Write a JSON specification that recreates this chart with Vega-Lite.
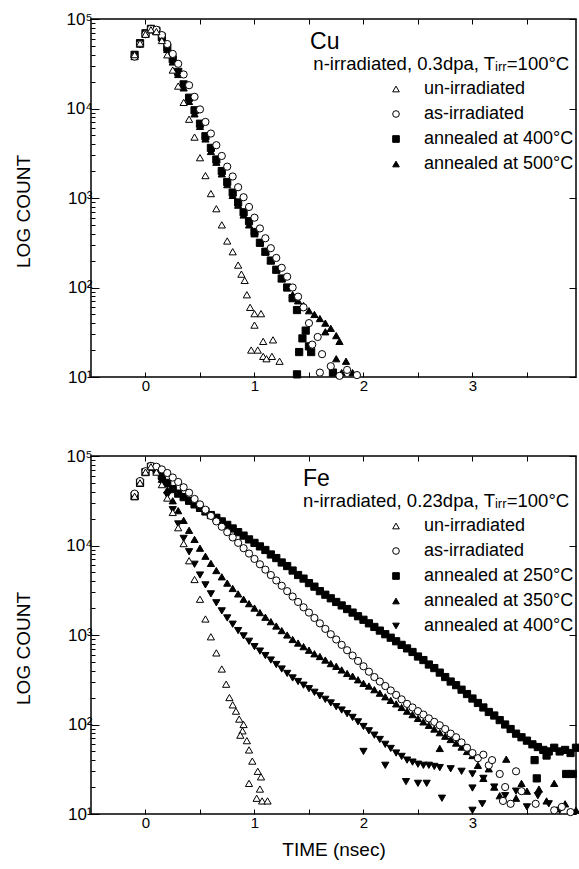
{
  "$schema": "https://vega.github.io/schema/vega-lite/v6.json",
  "background": "white",
  "padding": {"left": 14, "top": 9, "right": 0, "bottom": 5},
  "spacing": 52,
  "config": {
    "font": "Liberation Sans",
    "view": {"stroke": "black", "strokeWidth": 1.5},
    "axis": {"grid": false, "domain": false, "tickColor": "black", "tickWidth": 1, "labelColor": "black", "titleColor": "black", "labelFontSize": 15, "titleFontSize": 19, "titleFontWeight": "normal", "labelFlush": false, "labelOverlap": false},
    "axisY": {"labelFontSize": 17},
    "legend": {"labelFontSize": 18, "labelColor": "black", "symbolStrokeColor": "black", "symbolStrokeWidth": 1, "symbolSize": 44, "rowPadding": 7, "labelOffset": 19},
    "text": {"color": "black"}
  },
  "resolve": {"scale": {"shape": "independent", "fill": "independent", "stroke": "independent"}, "legend": {"shape": "independent", "fill": "independent", "stroke": "independent"}},
  "datasets": {
    "cu": [
      {"series":"a400","time":-0.1,"count":39800},{"series":"a400","time":-0.05,"count":53700},{"series":"a400","time":0,"count":69200},{"series":"a400","time":0.05,"count":77600},{"series":"a400","time":0.1,"count":74100},{"series":"a400","time":0.15,"count":63100},{"series":"a400","time":0.2,"count":47900},{"series":"a400","time":0.25,"count":35500},{"series":"a400","time":0.3,"count":25700},{"series":"a400","time":0.35,"count":18600},{"series":"a400","time":0.4,"count":13200},{"series":"a400","time":0.45,"count":9550},{"series":"a400","time":0.5,"count":6760},{"series":"a400","time":0.55,"count":4900},{"series":"a400","time":0.6,"count":3630},{"series":"a400","time":0.65,"count":2690},{"series":"a400","time":0.7,"count":2000},{"series":"a400","time":0.75,"count":1510},{"series":"a400","time":0.8,"count":1150},{"series":"a400","time":0.85,"count":891},{"series":"a400","time":0.9,"count":692},{"series":"a400","time":0.95,"count":550},{"series":"a400","time":1.0,"count":417},{"series":"a400","time":1.05,"count":316},{"series":"a400","time":1.1,"count":251},{"series":"a400","time":1.15,"count":200},{"series":"a400","time":1.2,"count":158},{"series":"a400","time":1.25,"count":126},{"series":"a400","time":1.3,"count":100},{"series":"a400","time":1.35,"count":76},{"series":"a400","time":1.39,"count":56},{"series":"a400","time":1.44,"count":27},{"series":"a400","time":1.41,"count":19},{"series":"a400","time":1.52,"count":19},{"series":"a400","time":1.39,"count":10.7},{"series":"a400","time":1.72,"count":11.2},{"series":"a400","time":1.5,"count":22},{"series":"a400","time":1.47,"count":33},
      {"series":"a500","time":-0.1,"count":38000},{"series":"a500","time":-0.05,"count":52500},{"series":"a500","time":0,"count":67600},{"series":"a500","time":0.05,"count":75900},{"series":"a500","time":0.1,"count":72400},{"series":"a500","time":0.15,"count":61700},{"series":"a500","time":0.2,"count":45700},{"series":"a500","time":0.25,"count":33100},{"series":"a500","time":0.3,"count":24000},{"series":"a500","time":0.35,"count":17000},{"series":"a500","time":0.4,"count":12000},{"series":"a500","time":0.45,"count":8710},{"series":"a500","time":0.5,"count":6310},{"series":"a500","time":0.55,"count":4570},{"series":"a500","time":0.6,"count":3310},{"series":"a500","time":0.65,"count":2510},{"series":"a500","time":0.7,"count":1860},{"series":"a500","time":0.75,"count":1410},{"series":"a500","time":0.8,"count":1070},{"series":"a500","time":0.85,"count":832},{"series":"a500","time":0.9,"count":646},{"series":"a500","time":0.95,"count":501},{"series":"a500","time":1.0,"count":398},{"series":"a500","time":1.05,"count":316},{"series":"a500","time":1.1,"count":251},{"series":"a500","time":1.15,"count":200},{"series":"a500","time":1.2,"count":158},{"series":"a500","time":1.25,"count":126},{"series":"a500","time":1.3,"count":100},{"series":"a500","time":1.35,"count":83},{"series":"a500","time":1.4,"count":71},{"series":"a500","time":1.45,"count":63},{"series":"a500","time":1.5,"count":55},{"series":"a500","time":1.55,"count":50},{"series":"a500","time":1.6,"count":45},{"series":"a500","time":1.65,"count":40},{"series":"a500","time":1.7,"count":35},{"series":"a500","time":1.75,"count":29},{"series":"a500","time":1.78,"count":25},{"series":"a500","time":1.65,"count":32},{"series":"a500","time":1.84,"count":15},{"series":"a500","time":1.75,"count":16},{"series":"a500","time":1.9,"count":11.2},{"series":"a500","time":1.8,"count":11.2},
      {"series":"as","time":-0.1,"count":38000},{"series":"as","time":-0.05,"count":52500},{"series":"as","time":0,"count":67600},{"series":"as","time":0.05,"count":77600},{"series":"as","time":0.1,"count":75900},{"series":"as","time":0.15,"count":66100},{"series":"as","time":0.2,"count":52500},{"series":"as","time":0.25,"count":40700},{"series":"as","time":0.3,"count":31600},{"series":"as","time":0.35,"count":24000},{"series":"as","time":0.4,"count":18200},{"series":"as","time":0.45,"count":13500},{"series":"as","time":0.5,"count":9770},{"series":"as","time":0.55,"count":7080},{"series":"as","time":0.6,"count":5250},{"series":"as","time":0.65,"count":3890},{"series":"as","time":0.7,"count":2950},{"series":"as","time":0.75,"count":2240},{"series":"as","time":0.8,"count":1740},{"series":"as","time":0.85,"count":1320},{"series":"as","time":0.9,"count":1020},{"series":"as","time":0.95,"count":794},{"series":"as","time":1.0,"count":603},{"series":"as","time":1.05,"count":457},{"series":"as","time":1.1,"count":355},{"series":"as","time":1.15,"count":275},{"series":"as","time":1.2,"count":214},{"series":"as","time":1.25,"count":166},{"series":"as","time":1.3,"count":132},{"series":"as","time":1.35,"count":100},{"series":"as","time":1.4,"count":79},{"series":"as","time":1.45,"count":60},{"series":"as","time":1.5,"count":40},{"series":"as","time":1.53,"count":23},{"series":"as","time":1.58,"count":28},{"series":"as","time":1.62,"count":18},{"series":"as","time":1.6,"count":11.2},{"series":"as","time":1.7,"count":13.2},{"series":"as","time":1.78,"count":10.3},{"series":"as","time":1.94,"count":10.5},{"series":"as","time":1.85,"count":12},
      {"series":"un","time":-0.1,"count":40000},{"series":"un","time":-0.05,"count":53700},{"series":"un","time":0,"count":67600},{"series":"un","time":0.05,"count":75900},{"series":"un","time":0.1,"count":72400},{"series":"un","time":0.15,"count":57500},{"series":"un","time":0.2,"count":39800},{"series":"un","time":0.25,"count":26900},{"series":"un","time":0.3,"count":17800},{"series":"un","time":0.35,"count":11700},{"series":"un","time":0.4,"count":7590},{"series":"un","time":0.45,"count":4790},{"series":"un","time":0.5,"count":2820},{"series":"un","time":0.55,"count":1780},{"series":"un","time":0.6,"count":1120},{"series":"un","time":0.65,"count":759},{"series":"un","time":0.7,"count":501},{"series":"un","time":0.75,"count":331},{"series":"un","time":0.8,"count":251},{"series":"un","time":0.85,"count":178},{"series":"un","time":0.88,"count":141},{"series":"un","time":0.91,"count":120},{"series":"un","time":0.93,"count":83},{"series":"un","time":0.96,"count":60},{"series":"un","time":1.0,"count":51},{"series":"un","time":1.0,"count":38},{"series":"un","time":1.06,"count":51},{"series":"un","time":0.97,"count":20},{"series":"un","time":1.08,"count":25},{"series":"un","time":1.17,"count":26},{"series":"un","time":1.08,"count":17},{"series":"un","time":1.11,"count":16},{"series":"un","time":1.16,"count":17},{"series":"un","time":1.23,"count":15},{"series":"un","time":1.03,"count":20}
    ],
    "fe": [
      {"series":"a250","time":-0.1,"count":35500},{"series":"a250","time":-0.05,"count":50100},{"series":"a250","time":0,"count":66100},{"series":"a250","time":0.05,"count":75900},{"series":"a250","time":0.1,"count":72400},{"series":"a250","time":0.15,"count":60300},{"series":"a250","time":0.2,"count":50100},{"series":"a250","time":0.25,"count":42700},{"series":"a250","time":0.3,"count":38000},{"series":"a250","time":0.35,"count":34700},{"series":"a250","time":0.4,"count":31600},{"series":"a250","time":0.45,"count":28800},{"series":"a250","time":0.5,"count":26300},{"series":"a250","time":0.55,"count":24000},{"series":"a250","time":0.6,"count":21900},{"series":"a250","time":0.65,"count":20400},{"series":"a250","time":0.7,"count":18600},{"series":"a250","time":0.75,"count":17000},{"series":"a250","time":0.8,"count":15500},{"series":"a250","time":0.85,"count":14100},{"series":"a250","time":0.9,"count":12900},{"series":"a250","time":0.95,"count":11700},{"series":"a250","time":1.0,"count":10700},{"series":"a250","time":1.05,"count":9770},{"series":"a250","time":1.1,"count":8910},{"series":"a250","time":1.15,"count":7940},{"series":"a250","time":1.2,"count":7240},{"series":"a250","time":1.25,"count":6460},{"series":"a250","time":1.3,"count":5890},{"series":"a250","time":1.35,"count":5250},{"series":"a250","time":1.4,"count":4680},{"series":"a250","time":1.45,"count":4270},{"series":"a250","time":1.5,"count":3800},{"series":"a250","time":1.55,"count":3470},{"series":"a250","time":1.6,"count":3090},{"series":"a250","time":1.65,"count":2820},{"series":"a250","time":1.7,"count":2570},{"series":"a250","time":1.75,"count":2340},{"series":"a250","time":1.8,"count":2140},{"series":"a250","time":1.85,"count":1950},{"series":"a250","time":1.9,"count":1780},{"series":"a250","time":1.95,"count":1620},{"series":"a250","time":2.0,"count":1480},{"series":"a250","time":2.05,"count":1350},{"series":"a250","time":2.1,"count":1230},{"series":"a250","time":2.15,"count":1120},{"series":"a250","time":2.2,"count":1020},{"series":"a250","time":2.25,"count":933},{"series":"a250","time":2.3,"count":851},{"series":"a250","time":2.35,"count":776},{"series":"a250","time":2.4,"count":708},{"series":"a250","time":2.45,"count":646},{"series":"a250","time":2.5,"count":575},{"series":"a250","time":2.55,"count":525},{"series":"a250","time":2.6,"count":468},{"series":"a250","time":2.65,"count":427},{"series":"a250","time":2.7,"count":380},{"series":"a250","time":2.75,"count":339},{"series":"a250","time":2.8,"count":302},{"series":"a250","time":2.85,"count":275},{"series":"a250","time":2.9,"count":245},{"series":"a250","time":2.95,"count":219},{"series":"a250","time":3.0,"count":195},{"series":"a250","time":3.05,"count":174},{"series":"a250","time":3.1,"count":155},{"series":"a250","time":3.15,"count":138},{"series":"a250","time":3.2,"count":126},{"series":"a250","time":3.25,"count":112},{"series":"a250","time":3.3,"count":100},{"series":"a250","time":3.35,"count":89},{"series":"a250","time":3.4,"count":79},{"series":"a250","time":3.45,"count":72},{"series":"a250","time":3.5,"count":66},{"series":"a250","time":3.55,"count":60},{"series":"a250","time":3.6,"count":56},{"series":"a250","time":3.65,"count":52},{"series":"a250","time":3.7,"count":50},{"series":"a250","time":3.75,"count":55},{"series":"a250","time":3.8,"count":50},{"series":"a250","time":3.85,"count":52},{"series":"a250","time":3.9,"count":48},{"series":"a250","time":3.95,"count":55},{"series":"a250","time":3.59,"count":25},{"series":"a250","time":3.86,"count":28},{"series":"a250","time":3.92,"count":28},{"series":"a250","time":3.57,"count":40},{"series":"a250","time":3.68,"count":45},
      {"series":"a350","time":-0.1,"count":36300},{"series":"a350","time":-0.05,"count":50100},{"series":"a350","time":0,"count":66100},{"series":"a350","time":0.05,"count":75900},{"series":"a350","time":0.1,"count":69200},{"series":"a350","time":0.15,"count":55000},{"series":"a350","time":0.2,"count":41700},{"series":"a350","time":0.25,"count":31600},{"series":"a350","time":0.3,"count":24500},{"series":"a350","time":0.35,"count":19100},{"series":"a350","time":0.4,"count":14800},{"series":"a350","time":0.45,"count":11700},{"series":"a350","time":0.5,"count":9330},{"series":"a350","time":0.55,"count":7590},{"series":"a350","time":0.6,"count":6310},{"series":"a350","time":0.65,"count":5250},{"series":"a350","time":0.7,"count":4470},{"series":"a350","time":0.75,"count":3800},{"series":"a350","time":0.8,"count":3310},{"series":"a350","time":0.85,"count":2880},{"series":"a350","time":0.9,"count":2510},{"series":"a350","time":0.95,"count":2240},{"series":"a350","time":1.0,"count":2000},{"series":"a350","time":1.05,"count":1780},{"series":"a350","time":1.1,"count":1580},{"series":"a350","time":1.15,"count":1410},{"series":"a350","time":1.2,"count":1260},{"series":"a350","time":1.25,"count":1120},{"series":"a350","time":1.3,"count":1000},{"series":"a350","time":1.35,"count":891},{"series":"a350","time":1.4,"count":813},{"series":"a350","time":1.45,"count":741},{"series":"a350","time":1.5,"count":676},{"series":"a350","time":1.55,"count":617},{"series":"a350","time":1.6,"count":575},{"series":"a350","time":1.65,"count":525},{"series":"a350","time":1.7,"count":479},{"series":"a350","time":1.75,"count":447},{"series":"a350","time":1.8,"count":407},{"series":"a350","time":1.85,"count":372},{"series":"a350","time":1.9,"count":347},{"series":"a350","time":1.95,"count":316},{"series":"a350","time":2.0,"count":288},{"series":"a350","time":2.05,"count":269},{"series":"a350","time":2.1,"count":245},{"series":"a350","time":2.15,"count":224},{"series":"a350","time":2.2,"count":204},{"series":"a350","time":2.25,"count":186},{"series":"a350","time":2.3,"count":170},{"series":"a350","time":2.35,"count":155},{"series":"a350","time":2.4,"count":141},{"series":"a350","time":2.45,"count":129},{"series":"a350","time":2.5,"count":117},{"series":"a350","time":2.55,"count":107},{"series":"a350","time":2.6,"count":98},{"series":"a350","time":2.65,"count":89},{"series":"a350","time":2.7,"count":81},{"series":"a350","time":2.75,"count":74},{"series":"a350","time":2.8,"count":68},{"series":"a350","time":2.85,"count":62},{"series":"a350","time":2.9,"count":56},{"series":"a350","time":2.95,"count":50},{"series":"a350","time":3.0,"count":45},{"series":"a350","time":3.05,"count":35},{"series":"a350","time":3.1,"count":25},{"series":"a350","time":3.15,"count":32},{"series":"a350","time":3.31,"count":41},{"series":"a350","time":2.7,"count":54},{"series":"a350","time":3.2,"count":20},{"series":"a350","time":3.4,"count":15},{"series":"a350","time":3.5,"count":18},{"series":"a350","time":3.61,"count":19},{"series":"a350","time":3.68,"count":14},{"series":"a350","time":3.75,"count":22},{"series":"a350","time":3.85,"count":13},{"series":"a350","time":3.95,"count":11},{"series":"a350","time":3.25,"count":16},{"series":"a350","time":3.45,"count":22},
      {"series":"a400","time":-0.1,"count":36300},{"series":"a400","time":-0.05,"count":50100},{"series":"a400","time":0,"count":66100},{"series":"a400","time":0.05,"count":75900},{"series":"a400","time":0.1,"count":67600},{"series":"a400","time":0.15,"count":51300},{"series":"a400","time":0.2,"count":36300},{"series":"a400","time":0.25,"count":25100},{"series":"a400","time":0.3,"count":17400},{"series":"a400","time":0.35,"count":12000},{"series":"a400","time":0.4,"count":8510},{"series":"a400","time":0.45,"count":6170},{"series":"a400","time":0.5,"count":4680},{"series":"a400","time":0.55,"count":3630},{"series":"a400","time":0.6,"count":2880},{"series":"a400","time":0.65,"count":2290},{"series":"a400","time":0.7,"count":1860},{"series":"a400","time":0.75,"count":1550},{"series":"a400","time":0.8,"count":1320},{"series":"a400","time":0.85,"count":1120},{"series":"a400","time":0.9,"count":977},{"series":"a400","time":0.95,"count":851},{"series":"a400","time":1.0,"count":741},{"series":"a400","time":1.05,"count":661},{"series":"a400","time":1.1,"count":589},{"series":"a400","time":1.15,"count":525},{"series":"a400","time":1.2,"count":468},{"series":"a400","time":1.25,"count":417},{"series":"a400","time":1.3,"count":372},{"series":"a400","time":1.35,"count":331},{"series":"a400","time":1.4,"count":302},{"series":"a400","time":1.45,"count":275},{"series":"a400","time":1.5,"count":251},{"series":"a400","time":1.55,"count":229},{"series":"a400","time":1.6,"count":209},{"series":"a400","time":1.65,"count":191},{"series":"a400","time":1.7,"count":174},{"series":"a400","time":1.75,"count":158},{"series":"a400","time":1.8,"count":145},{"series":"a400","time":1.85,"count":132},{"series":"a400","time":1.9,"count":120},{"series":"a400","time":1.95,"count":107},{"series":"a400","time":2.0,"count":95},{"series":"a400","time":2.05,"count":85},{"series":"a400","time":2.1,"count":76},{"series":"a400","time":2.15,"count":68},{"series":"a400","time":2.2,"count":60},{"series":"a400","time":2.25,"count":54},{"series":"a400","time":2.3,"count":48},{"series":"a400","time":2.35,"count":44},{"series":"a400","time":2.4,"count":40},{"series":"a400","time":2.45,"count":38},{"series":"a400","time":2.5,"count":36},{"series":"a400","time":2.55,"count":35},{"series":"a400","time":2.6,"count":35},{"series":"a400","time":2.65,"count":34},{"series":"a400","time":2.7,"count":33},{"series":"a400","time":2.8,"count":32},{"series":"a400","time":2.9,"count":30},{"series":"a400","time":3.0,"count":28},{"series":"a400","time":2.39,"count":23},{"series":"a400","time":2.5,"count":22},{"series":"a400","time":2.58,"count":22},{"series":"a400","time":2.72,"count":15},{"series":"a400","time":3.0,"count":19.5},{"series":"a400","time":3.0,"count":11},{"series":"a400","time":3.09,"count":13},{"series":"a400","time":3.2,"count":20},{"series":"a400","time":3.3,"count":16},{"series":"a400","time":3.5,"count":12},{"series":"a400","time":3.8,"count":11},{"series":"a400","time":3.1,"count":25},{"series":"a400","time":3.4,"count":18},{"series":"a400","time":3.6,"count":16},{"series":"a400","time":3.7,"count":13},{"series":"a400","time":2.2,"count":35},{"series":"a400","time":2.0,"count":50},
      {"series":"as","time":-0.1,"count":38000},{"series":"as","time":-0.05,"count":52500},{"series":"as","time":0,"count":67600},{"series":"as","time":0.05,"count":77600},{"series":"as","time":0.1,"count":75900},{"series":"as","time":0.15,"count":70800},{"series":"as","time":0.2,"count":64600},{"series":"as","time":0.25,"count":57500},{"series":"as","time":0.3,"count":51300},{"series":"as","time":0.35,"count":44700},{"series":"as","time":0.4,"count":38900},{"series":"as","time":0.45,"count":33100},{"series":"as","time":0.5,"count":28800},{"series":"as","time":0.55,"count":25100},{"series":"as","time":0.6,"count":21400},{"series":"as","time":0.65,"count":18600},{"series":"as","time":0.7,"count":16200},{"series":"as","time":0.75,"count":14100},{"series":"as","time":0.8,"count":12300},{"series":"as","time":0.85,"count":10700},{"series":"as","time":0.9,"count":9330},{"series":"as","time":0.95,"count":8130},{"series":"as","time":1.0,"count":7080},{"series":"as","time":1.05,"count":6170},{"series":"as","time":1.1,"count":5370},{"series":"as","time":1.15,"count":4680},{"series":"as","time":1.2,"count":4070},{"series":"as","time":1.25,"count":3550},{"series":"as","time":1.3,"count":3090},{"series":"as","time":1.35,"count":2690},{"series":"as","time":1.4,"count":2340},{"series":"as","time":1.45,"count":2040},{"series":"as","time":1.5,"count":1780},{"series":"as","time":1.55,"count":1550},{"series":"as","time":1.6,"count":1350},{"series":"as","time":1.65,"count":1170},{"series":"as","time":1.7,"count":1020},{"series":"as","time":1.75,"count":891},{"series":"as","time":1.8,"count":776},{"series":"as","time":1.85,"count":676},{"series":"as","time":1.9,"count":589},{"series":"as","time":1.95,"count":513},{"series":"as","time":2.0,"count":447},{"series":"as","time":2.05,"count":389},{"series":"as","time":2.1,"count":339},{"series":"as","time":2.15,"count":302},{"series":"as","time":2.2,"count":269},{"series":"as","time":2.25,"count":240},{"series":"as","time":2.3,"count":214},{"series":"as","time":2.35,"count":191},{"series":"as","time":2.4,"count":170},{"series":"as","time":2.45,"count":155},{"series":"as","time":2.5,"count":141},{"series":"as","time":2.55,"count":129},{"series":"as","time":2.6,"count":117},{"series":"as","time":2.65,"count":107},{"series":"as","time":2.7,"count":98},{"series":"as","time":2.75,"count":89},{"series":"as","time":2.8,"count":79},{"series":"as","time":2.85,"count":72},{"series":"as","time":2.9,"count":63},{"series":"as","time":2.95,"count":55},{"series":"as","time":3.0,"count":48},{"series":"as","time":3.05,"count":42},{"series":"as","time":3.1,"count":46},{"series":"as","time":3.15,"count":35},{"series":"as","time":3.18,"count":40},{"series":"as","time":3.25,"count":28},{"series":"as","time":3.3,"count":20},{"series":"as","time":3.28,"count":14},{"series":"as","time":3.35,"count":13},{"series":"as","time":3.4,"count":30},{"series":"as","time":3.45,"count":18},{"series":"as","time":3.58,"count":13},{"series":"as","time":3.75,"count":11},{"series":"as","time":3.82,"count":12},{"series":"as","time":3.9,"count":10.5},
      {"series":"un","time":-0.1,"count":35500},{"series":"un","time":-0.05,"count":50100},{"series":"un","time":0,"count":66100},{"series":"un","time":0.05,"count":75900},{"series":"un","time":0.1,"count":66100},{"series":"un","time":0.15,"count":47900},{"series":"un","time":0.2,"count":33900},{"series":"un","time":0.25,"count":23400},{"series":"un","time":0.3,"count":15800},{"series":"un","time":0.35,"count":10500},{"series":"un","time":0.4,"count":6760},{"series":"un","time":0.45,"count":4170},{"series":"un","time":0.5,"count":2510},{"series":"un","time":0.55,"count":1510},{"series":"un","time":0.6,"count":955},{"series":"un","time":0.65,"count":631},{"series":"un","time":0.7,"count":417},{"series":"un","time":0.74,"count":282},{"series":"un","time":0.77,"count":200},{"series":"un","time":0.8,"count":166},{"series":"un","time":0.83,"count":141},{"series":"un","time":0.86,"count":115},{"series":"un","time":0.89,"count":85},{"series":"un","time":0.87,"count":76},{"series":"un","time":0.93,"count":66},{"series":"un","time":0.95,"count":52},{"series":"un","time":0.98,"count":39},{"series":"un","time":1.03,"count":30},{"series":"un","time":1.06,"count":26},{"series":"un","time":0.95,"count":22},{"series":"un","time":1.05,"count":19},{"series":"un","time":1.02,"count":15},{"series":"un","time":1.07,"count":14},{"series":"un","time":1.12,"count":14},{"series":"un","time":0.9,"count":100}
    ]
  },
  "vconcat": [
    {
      "width": 485,
      "height": 358,
      "layer": [
        {
          "data": {"name": "cu"},
          "mark": {"type": "point", "filled": true, "strokeWidth": 1, "size": 52, "opacity": 1},
          "encoding": {
            "x": {"field": "time", "type": "quantitative", "scale": {"domain": [-0.5, 3.95], "nice": false, "zero": false},
              "axis": {"orient": "bottom", "title": null, "values": [0, 0.5, 1, 1.5, 2, 2.5, 3, 3.5], "labelExpr": "datum.value % 1 == 0 ? format(datum.value, 'd') : ''", "tickSize": -5, "labelPadding": 6}},
            "y": {"field": "count", "type": "quantitative", "scale": {"type": "log", "domain": [10, 100000], "nice": false},
              "axis": {"orient": "left", "title": "LOG COUNT", "titleY": 192, "titlePadding": 32,
                "values": [10,20,30,40,50,60,70,80,90,100,200,300,400,500,600,700,800,900,1000,2000,3000,4000,5000,6000,7000,8000,9000,10000,20000,30000,40000,50000,60000,70000,80000,90000,100000],
                "labelExpr": "datum.value == 10 ? '10¹' : datum.value == 100 ? '10²' : datum.value == 1000 ? '10³' : datum.value == 10000 ? '10⁴' : datum.value == 100000 ? '10⁵' : ''",
                "tickSize": {"condition": {"test": "datum.value == 10 || datum.value == 100 || datum.value == 1000 || datum.value == 10000 || datum.value == 100000", "value": -8}, "value": -4},
                "labelPadding": 7}},
            "shape": {"field": "series", "type": "nominal", "scale": {"domain": ["un", "as", "a400", "a500"], "range": ["triangle-up", "circle", "square", "triangle-up"]},
              "legend": {"title": null, "orient": "none", "legendX": 296, "legendY": 61, "labelExpr": "datum.label == 'un' ? 'un-irradiated' : datum.label == 'as' ? 'as-irradiated' : datum.label == 'a400' ? 'annealed at 400°C' : 'annealed at 500°C'"}},
            "fill": {"field": "series", "type": "nominal", "scale": {"domain": ["un", "as", "a400", "a500"], "range": ["white", "white", "black", "black"]},
              "legend": {"title": null, "orient": "none", "legendX": 296, "legendY": 61, "labelExpr": "datum.label == 'un' ? 'un-irradiated' : datum.label == 'as' ? 'as-irradiated' : datum.label == 'a400' ? 'annealed at 400°C' : 'annealed at 500°C'"}},
            "stroke": {"field": "series", "type": "nominal", "scale": {"domain": ["un", "as", "a400", "a500"], "range": ["black", "black", "black", "black"]},
              "legend": {"title": null, "orient": "none", "legendX": 296, "legendY": 61, "labelExpr": "datum.label == 'un' ? 'un-irradiated' : datum.label == 'as' ? 'as-irradiated' : datum.label == 'a400' ? 'annealed at 400°C' : 'annealed at 500°C'"}}
          }
        },
        {
          "data": {"values": [{}]},
          "mark": {"type": "text", "text": "Cu", "fontSize": 23, "align": "left", "baseline": "alphabetic"},
          "encoding": {
            "x": {"datum": 1.51, "type": "quantitative", "axis": {"orient": "top", "title": null, "labels": false, "values": [0, 0.5, 1, 1.5, 2, 2.5, 3, 3.5], "tickSize": -5}},
            "y": {"datum": 46200, "type": "quantitative", "axis": {"orient": "right", "title": null, "labels": false, "values": [10, 100, 1000, 10000, 100000], "tickSize": -7}}
          }
        },
        {
          "data": {"values": [{}]},
          "mark": {"type": "text", "text": "n-irradiated, 0.3dpa, Tᵢᵣᵣ=100°C", "fontSize": 18.5, "align": "left", "baseline": "alphabetic"},
          "encoding": {
            "x": {"datum": 1.54, "type": "quantitative", "axis": null},
            "y": {"datum": 26900, "type": "quantitative", "axis": null}
          }
        }
      ]
    },
    {
      "width": 485,
      "height": 358,
      "layer": [
        {
          "data": {"name": "fe"},
          "mark": {"type": "point", "filled": true, "strokeWidth": 1, "size": 52, "opacity": 1},
          "encoding": {
            "x": {"field": "time", "type": "quantitative", "scale": {"domain": [-0.5, 3.95], "nice": false, "zero": false},
              "axis": {"orient": "bottom", "title": "TIME (nsec)", "titlePadding": 10, "values": [0, 0.5, 1, 1.5, 2, 2.5, 3, 3.5], "labelExpr": "datum.value % 1 == 0 ? format(datum.value, 'd') : ''", "tickSize": -5, "labelPadding": 6}},
            "y": {"field": "count", "type": "quantitative", "scale": {"type": "log", "domain": [10, 100000], "nice": false},
              "axis": {"orient": "left", "title": "LOG COUNT", "titleY": 192, "titlePadding": 32,
                "values": [10,20,30,40,50,60,70,80,90,100,200,300,400,500,600,700,800,900,1000,2000,3000,4000,5000,6000,7000,8000,9000,10000,20000,30000,40000,50000,60000,70000,80000,90000,100000],
                "labelExpr": "datum.value == 10 ? '10¹' : datum.value == 100 ? '10²' : datum.value == 1000 ? '10³' : datum.value == 10000 ? '10⁴' : datum.value == 100000 ? '10⁵' : ''",
                "tickSize": {"condition": {"test": "datum.value == 10 || datum.value == 100 || datum.value == 1000 || datum.value == 10000 || datum.value == 100000", "value": -8}, "value": -4},
                "labelPadding": 7}},
            "shape": {"field": "series", "type": "nominal", "scale": {"domain": ["un", "as", "a250", "a350", "a400"], "range": ["triangle-up", "circle", "square", "triangle-up", "triangle-down"]},
              "legend": {"title": null, "orient": "none", "legendX": 296, "legendY": 61, "labelExpr": "datum.label == 'un' ? 'un-irradiated' : datum.label == 'as' ? 'as-irradiated' : datum.label == 'a250' ? 'annealed at 250°C' : datum.label == 'a350' ? 'annealed at 350°C' : 'annealed at 400°C'"}},
            "fill": {"field": "series", "type": "nominal", "scale": {"domain": ["un", "as", "a250", "a350", "a400"], "range": ["white", "white", "black", "black", "black"]},
              "legend": {"title": null, "orient": "none", "legendX": 296, "legendY": 61, "labelExpr": "datum.label == 'un' ? 'un-irradiated' : datum.label == 'as' ? 'as-irradiated' : datum.label == 'a250' ? 'annealed at 250°C' : datum.label == 'a350' ? 'annealed at 350°C' : 'annealed at 400°C'"}},
            "stroke": {"field": "series", "type": "nominal", "scale": {"domain": ["un", "as", "a250", "a350", "a400"], "range": ["black", "black", "black", "black", "black"]},
              "legend": {"title": null, "orient": "none", "legendX": 296, "legendY": 61, "labelExpr": "datum.label == 'un' ? 'un-irradiated' : datum.label == 'as' ? 'as-irradiated' : datum.label == 'a250' ? 'annealed at 250°C' : datum.label == 'a350' ? 'annealed at 350°C' : 'annealed at 400°C'"}}
          }
        },
        {
          "data": {"values": [{}]},
          "mark": {"type": "text", "text": "Fe", "fontSize": 23, "align": "left", "baseline": "alphabetic"},
          "encoding": {
            "x": {"datum": 1.445, "type": "quantitative", "axis": {"orient": "top", "title": null, "labels": false, "values": [0, 0.5, 1, 1.5, 2, 2.5, 3, 3.5], "tickSize": -5}},
            "y": {"datum": 46200, "type": "quantitative", "axis": {"orient": "right", "title": null, "labels": false, "values": [10, 100, 1000, 10000, 100000], "tickSize": -7}}
          }
        },
        {
          "data": {"values": [{}]},
          "mark": {"type": "text", "text": "n-irradiated, 0.23dpa, Tᵢᵣᵣ=100°C", "fontSize": 18.5, "align": "left", "baseline": "alphabetic"},
          "encoding": {
            "x": {"datum": 1.445, "type": "quantitative", "axis": null},
            "y": {"datum": 26900, "type": "quantitative", "axis": null}
          }
        }
      ]
    }
  ]
}
